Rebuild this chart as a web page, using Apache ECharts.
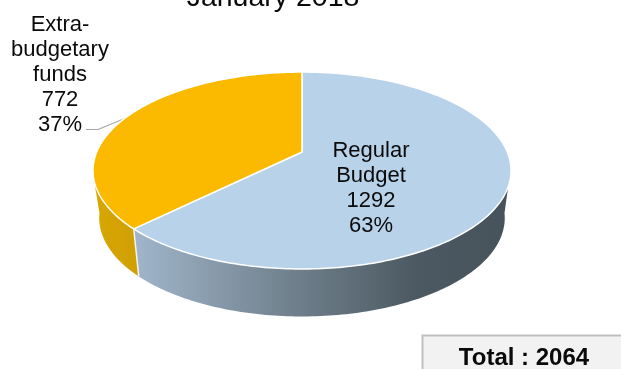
<!DOCTYPE html>
<html>
<head>
<meta charset="utf-8">
<style>html,body{margin:0;padding:0;background:#fff}#chart{width:621px;height:369px}</style>
<script src="https://cdn.jsdelivr.net/npm/echarts@6/dist/echarts.min.js"></script>
</head>
<body>
<div id="chart"></div>
<script>
const chartTitle = 'January 2018';
const categories = ['Regular\nBudget', 'Extra-\nbudgetary\nfunds'];
const values = [1292, 772];
const totalLabel = 'Total : 2064';

const total = values.reduce((a, b) => a + b, 0);

// Perspective disc: k sets how much nearer points are magnified.
const disc = { cx: 302, cy: 152, rx: 205.3, ry: 95, k: 0.188 };
const base = { cy: 199.5, scaleX: 0.97, scaleY: 1 };
// Visible extent of the side wall on the upper rim and on the lower rim.
const wallTop = [110, 254], wallBase = [98, 262];

function project(deg, plane) {
  const t = deg * Math.PI / 180;
  const w = 1 + disc.k * Math.cos(t);
  const onBase = plane === 'base';
  const sx = onBase ? base.scaleX : 1;
  const sy = onBase ? base.scaleY : 1;
  const cy = onBase ? base.cy : disc.cy;
  return [disc.cx + sx * disc.rx * Math.sin(t) / w, cy - sy * disc.ry * Math.cos(t) / w];
}

function rim(a0, a1, plane) {
  const pts = [];
  const n = Math.max(2, Math.ceil(Math.abs(a1 - a0)));
  for (let i = 0; i <= n; i++) pts.push(project(a0 + (a1 - a0) * i / n, plane));
  return pts;
}

const sliceStyles = [
  {
    top: '#b8d2e9',
    wall: { type: 'linear', global: true, x: 135, y: 0, x2: 510, y2: 0, colorStops: [
      { offset: 0, color: '#a0b5cb' }, { offset: 0.4, color: '#72838f' },
      { offset: 0.75, color: '#4c5962' }, { offset: 1, color: '#46535b' }] }
  },
  {
    top: '#fbba00',
    wall: { type: 'linear', global: true, x: 94, y: 0, x2: 138, y2: 0, colorStops: [
      { offset: 0, color: '#d9a700' }, { offset: 1, color: '#cf9f05' }] }
  }
];

const labelSpots = [[371, 188], [60, 75]];

function renderSlice(params, api) {
  const i = params.dataIndex;
  const before = values.slice(0, i).reduce((a, b) => a + b, 0);
  const a0 = before / total * 360;
  const a1 = (before + api.value(0)) / total * 360;
  const style = sliceStyles[i];
  const children = [];

  // Side wall: upper rim forwards, lower rim back, each clipped to what shows.
  const upper = rim(Math.max(a0, wallTop[0]), Math.min(a1, wallTop[1]), 'top');
  const lower = rim(Math.min(a1, wallBase[1]), Math.max(a0, wallBase[0]), 'base');
  children.push({ type: 'polygon', shape: { points: upper.concat(lower) }, style: { fill: style.wall } });

  if (i === 0) {
    children.push({ type: 'polyline', z2: 3,
      shape: { points: [project(a1, 'top'), project(a1, 'base')] },
      style: { fill: 'none', stroke: '#f4f4f0', lineWidth: 1.5 } });
  }
  children.push({
    type: 'polygon', z2: 2,
    shape: { points: [[disc.cx, disc.cy]].concat(rim(a0, a1, 'top')) },
    style: { fill: style.top, stroke: '#ffffff', lineWidth: 1.5, lineJoin: 'round' }
  });
  const pct = Math.round(api.value(0) / total * 100) + '%';
  children.push({
    type: 'text', z2: 5,
    style: {
      x: labelSpots[i][0], y: labelSpots[i][1],
      text: categories[i] + '\n' + api.value(0) + '\n' + pct,
      font: '22px "Liberation Sans", Arial, sans-serif', lineHeight: 25,
      fill: '#0a0a0a', align: 'center', verticalAlign: 'middle'
    }
  });
  return { type: 'group', children };
}

const chart = echarts.init(document.getElementById('chart'), null, { renderer: 'canvas' });
chart.setOption({
  animation: false,
  backgroundColor: '#ffffff',
  title: {
    text: chartTitle, left: 268, top: -21, textAlign: 'center',
    textStyle: { fontFamily: '"Liberation Sans", Arial, sans-serif', fontSize: 28.5, fontWeight: 'normal', color: '#0a0a0a' }
  },
  series: [{
    type: 'custom',
    coordinateSystem: 'none',
    renderItem: renderSlice,
    data: categories.map((name, i) => ({ name, value: [values[i]] }))
  }],
  graphic: [
    { type: 'polyline', shape: { points: [[86, 129.5], [98, 129.5], [126, 118]] },
      style: { fill: 'none', stroke: '#a6a6a6', lineWidth: 1.2 } },
    { type: 'rect', shape: { x: 422.5, y: 335.5, width: 220, height: 60 },
      style: { fill: '#f2f2f2', stroke: '#bfbfbf', lineWidth: 2 } },
    { type: 'text', z: 10, x: 524, y: 358,
      style: { text: totalLabel, font: 'bold 24px "Liberation Sans", Arial, sans-serif',
        fill: '#0a0a0a', align: 'center', verticalAlign: 'middle' } }
  ]
});
</script>
</body>
</html>
